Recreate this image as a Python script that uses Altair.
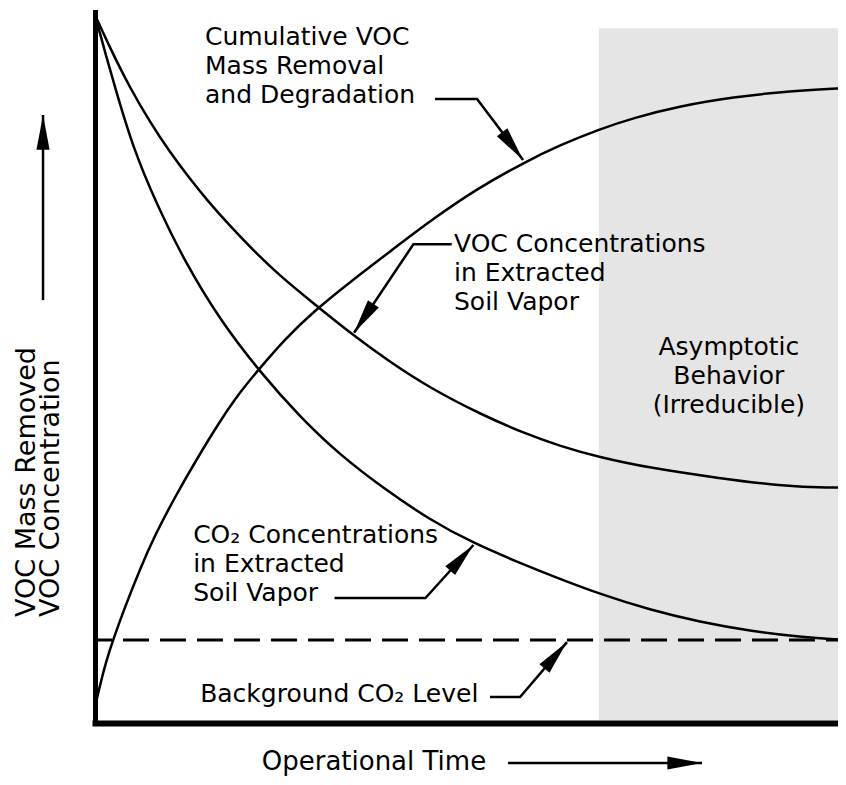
import math
import altair as alt

# ---- data (x: operational time 0-100, y: relative level 0-100) ----
time_mass = [0, 0.67, 1.46, 2.40, 3.99, 5.99, 7.99, 10.65, 13.32, 16.64, 19.31, 21.97,
             25.30, 29.03, 33.95, 39.55, 44.61, 51.0, 57.26, 61.92, 67.24, 71.64, 77.9,
             84.95, 92.54, 100]
mass_removed = [1.84, 4.94, 8.19, 11.30, 15.96, 21.33, 26.13, 31.50, 36.44, 42.23, 46.33,
                49.72, 53.81, 57.63, 61.86, 66.38, 70.48, 75.14, 78.81, 81.21, 83.47, 85.03,
                86.72, 87.99, 88.84, 89.27]

time_co2 = [0, 1.33, 2.66, 5.06, 8.26, 11.98, 16.64, 21.97, 27.30, 32.62, 38.35, 44.61,
            50.33, 56.59, 61.92, 67.24, 73.90, 80.56, 87.22, 93.87, 100]
co2_conc = [99.58, 94.35, 89.41, 80.79, 72.74, 64.69, 56.50, 49.15, 42.80, 37.43, 32.77,
            28.25, 25.0, 22.18, 19.92, 17.80, 15.54, 13.84, 12.57, 11.72, 11.30]

time_voc = [0, 2.0, 4.66, 7.32, 9.85, 12.65, 14.91, 17.98, 21.04, 24.63, 29.03, 34.49,
            39.28, 44.61, 51.26, 57.39, 61.92, 66.98, 73.90, 82.96, 91.21, 98.27, 100]
voc_conc = [99.58, 94.92, 89.27, 84.46, 80.37, 76.41, 73.45, 69.77, 66.38, 62.71, 58.90,
            54.24, 50.56, 46.89, 43.22, 40.40, 38.70, 37.15, 35.59, 34.18, 33.05, 32.77,
            32.91]

background_co2 = 11.3
asymptotic_range = [67.1, 100]
asymptotic_top = 97.7

# leader lines (polyline vertices; last vertex is the arrow tip)
leader_cumulative = [(45.27, 87.71), (50.87, 87.71), (57.0, 79.1)]
leader_voc = [(47.5, 67.2), (42.4, 67.2), (34.5, 54.7)]
leader_co2 = [(31.89, 17.23), (44.0, 17.23), (50.39, 24.72)]
leader_background = [(52.6, 3.25), (56.6, 3.25), (62.85, 11.0)]
arrow_y_axis = [(-6.92, 59.3), (-6.92, 85.45)]
arrow_x_axis = [(55.0, -6.07), (80.83, -6.07)]

label_cumulative = ["Cumulative VOC", "Mass Removal", "and Degradation"]
label_voc = ["VOC Concentrations", "in Extracted", "Soil Vapor"]
label_co2 = ["CO\u2082 Concentrations", "in Extracted", "Soil Vapor"]
label_background = ["Background CO\u2082 Level"]
label_asymptotic = ["Asymptotic", "Behavior", "(Irreducible)"]
label_x = ["Operational Time"]
label_y = ["VOC Mass Removed", "VOC Concentration"]

# ---- layout ----
W, H = 743, 708
PX_T, PX_V = 7.51, H / 100.0
X_MAX = W / PX_T
FONT = "DejaVu Sans"

xs = alt.Scale(domain=[0, X_MAX], nice=False, zero=False)
ys = alt.Scale(domain=[0, 100], nice=False, zero=False)
X = lambda f="t": alt.X(f"{f}:Q", scale=xs, title=None)
Y = lambda f="v": alt.Y(f"{f}:Q", scale=ys, title=None)

# curves
curve_rows = []
for name, ts, vs in [("mass", time_mass, mass_removed), ("co2", time_co2, co2_conc),
                     ("voc", time_voc, voc_conc)]:
    for i, (t, v) in enumerate(zip(ts, vs)):
        curve_rows.append({"series": name, "i": i, "t": t, "v": v})

curves = alt.Chart(alt.Data(values=curve_rows)).mark_line(
    color="black", strokeWidth=2.5, interpolate="basis", clip=False
).encode(x=X(), y=Y(), detail="series:N", order="i:Q")

shade = alt.Chart(alt.Data(values=[{"t": asymptotic_range[0], "t2": asymptotic_range[1],
                                     "v": 0, "v2": asymptotic_top}])).mark_rect(
    color="#e5e5e5"
).encode(x=X(), x2="t2:Q", y=Y(), y2="v2:Q")

dashed = alt.Chart(alt.Data(values=[{"t": 0, "t2": 100, "v": background_co2}])).mark_rule(
    color="black", strokeWidth=3, strokeDash=[26, 11], strokeDashOffset=9
).encode(x=X(), x2="t2:Q", y=Y())

# leaders
leader_rows, tip_rows = [], []
for k, pts in enumerate([leader_cumulative, leader_voc, leader_co2, leader_background,
                         arrow_y_axis, arrow_x_axis]):
    for i, (t, v) in enumerate(pts):
        leader_rows.append({"id": k, "i": i, "t": t, "v": v})
    (t0, v0), (t1, v1) = pts[-2], pts[-1]
    dx = (t1 - t0) * PX_T
    dy = -(v1 - v0) * PX_V
    ang = math.degrees(math.atan2(dx, -dy)) % 360
    tip_rows.append({"t": t1, "v": v1, "angle": ang})

leaders = alt.Chart(alt.Data(values=leader_rows)).mark_line(
    color="black", strokeWidth=2.5, clip=False
).encode(x=X(), y=Y(), detail="id:N", order="i:Q")

tips = alt.Chart(alt.Data(values=tip_rows)).mark_point(
    shape="M0,0L0.38,2L-0.38,2Z", filled=True, color="black", opacity=1,
    size=1200, strokeWidth=0, clip=False
).encode(x=X(), y=Y(), angle=alt.Angle("angle:Q", scale=None))

# texts
text_rows = [
    {"lines": label_cumulative, "t": 14.65, "v": 95.34},
    {"lines": label_voc, "t": 47.8, "v": 66.15},
    {"lines": label_co2, "t": 13.07, "v": 25.0},
    {"lines": label_background, "t": 14.0, "v": 2.5},
]
texts = alt.Chart(alt.Data(values=text_rows)).mark_text(
    align="left", baseline="alphabetic", font=FONT, fontSize=25, lineHeight=29,
    color="black", clip=False
).encode(x=X(), y=Y(), text="lines:N")

xlab = alt.Chart(alt.Data(values=[{"lines": label_x, "t": 22.2, "v": -7.06}])).mark_text(
    align="left", baseline="alphabetic", font=FONT, fontSize=26, color="black", clip=False
).encode(x=X(), y=Y(), text="lines:N")

asym = alt.Chart(alt.Data(values=[{"lines": label_asymptotic, "t": 84.4, "v": 51.55}])).mark_text(
    align="center", baseline="alphabetic", font=FONT, fontSize=25, lineHeight=29,
    color="black"
).encode(x=X(), y=Y(), text="lines:N")

ylab = alt.Chart(alt.Data(values=[{"lines": label_y, "t": -8.0, "v": 14.55}])).mark_text(
    align="left", baseline="alphabetic", font=FONT, fontSize=27, lineHeight=24,
    angle=270, color="black", clip=False
).encode(x=X(), y=Y(), text="lines:N")

chart = alt.layer(shade, dashed, curves, leaders, tips, texts, xlab, asym, ylab).properties(
    width=W, height=H,
    autosize=alt.AutoSizeParams(type="none"),
    padding={"left": 87, "top": 4, "right": 0, "bottom": 60},
    background="white",
).configure_view(stroke=None, clip=False).configure_axis(
    labels=False, ticks=False, grid=False, title=None, domainColor="black",
    domainCap="square"
).configure_axisX(domainWidth=6, offset=3).configure_axisY(domainWidth=5)

chart.save("out.html", embed_options={"renderer": "svg", "actions": False})
